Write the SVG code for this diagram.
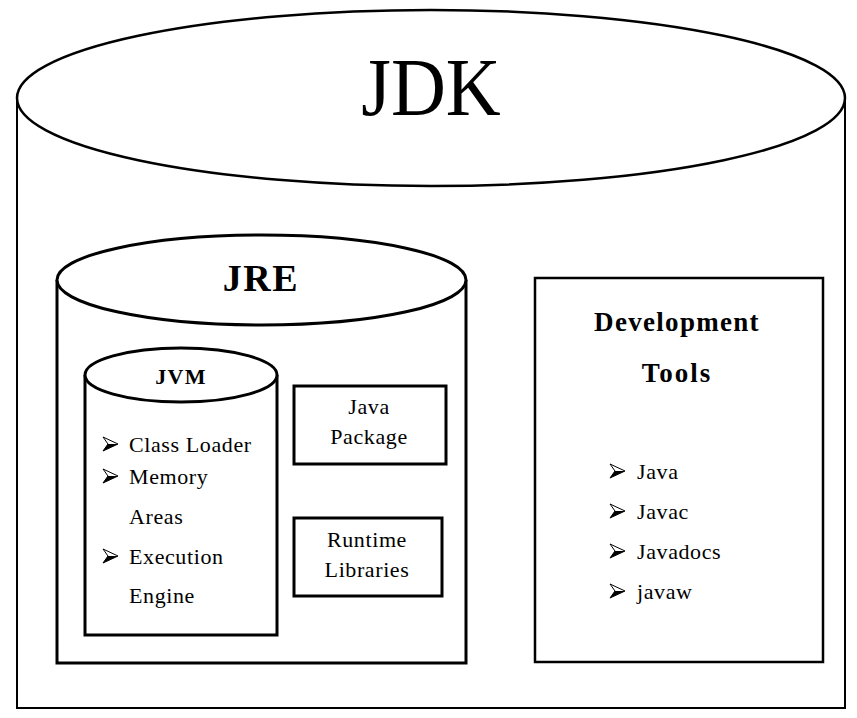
<svg xmlns="http://www.w3.org/2000/svg" width="857" height="718" viewBox="0 0 857 718">
<style>
.s{fill:#fff;stroke:#000;}
.t{font-family:"Liberation Serif","Times New Roman",serif;fill:#000;}
.c{text-anchor:middle;}
.b{font-weight:bold;}
.i{font-size:22px;letter-spacing:0.6px;}
</style>
<defs>
<g id="bul">
<path d="M0,0 L15,7 L0,14 L5,7 Z" fill="#fff" stroke="#000" stroke-width="1"/>
<path d="M5,7 L15,7 L0,14 Z" fill="#000"/>
</g>
</defs>
<rect width="857" height="718" fill="#fff"/>
<g id="jdk">
<path class="s" stroke-width="2" d="M17,98 L17,708 L845,708 L845,98"/>
<ellipse class="s" stroke-width="2.5" cx="431" cy="98" rx="414" ry="88"/>
<text class="t c" x="431" y="115" font-size="80" transform="translate(431,115) scale(0.95,1.04) translate(-431,-115)">JDK</text>
</g>
<g id="jre">
<path class="s" stroke-width="3" d="M57,280 L57,663 L466,663 L466,280"/>
<ellipse class="s" stroke-width="3" cx="261.5" cy="280" rx="204.5" ry="45"/>
<text class="t c b" x="261" y="291" font-size="38" letter-spacing="1.5">JRE</text>
</g>
<g id="jvm">
<path class="s" stroke-width="3" d="M85,375 L85,635 L277,635 L277,375"/>
<ellipse class="s" stroke-width="3" cx="181" cy="375" rx="96" ry="27"/>
<text class="t c b" x="181" y="384" font-size="22" letter-spacing="1.2">JVM</text>
<use href="#bul" x="103" y="437"/>
<use href="#bul" x="103" y="469"/>
<use href="#bul" x="103" y="549"/>
<text class="t i" x="129" y="452">Class Loader</text>
<text class="t i" x="129" y="484">Memory</text>
<text class="t i" x="129" y="524">Areas</text>
<text class="t i" x="129" y="564">Execution</text>
<text class="t i" x="129" y="603">Engine</text>
</g>
<g id="javapackage">
<rect class="s" stroke-width="3" x="294" y="386" width="152" height="78"/>
<text class="t c i" x="369" y="414">Java</text>
<text class="t c i" x="369" y="444">Package</text>
</g>
<g id="runtimelibraries">
<rect class="s" stroke-width="3" x="294" y="518" width="148" height="78"/>
<text class="t c i" x="367" y="547">Runtime</text>
<text class="t c i" x="367" y="577">Libraries</text>
</g>
<g id="devtools">
<rect class="s" stroke-width="2.5" x="535" y="278" width="288" height="384"/>
<text class="t c b" x="677" y="331" font-size="27" letter-spacing="1.3">Development</text>
<text class="t c b" x="677" y="382" font-size="27" letter-spacing="2">Tools</text>
<use href="#bul" x="610" y="464"/>
<use href="#bul" x="610" y="504"/>
<use href="#bul" x="610" y="544"/>
<use href="#bul" x="610" y="584"/>
<text class="t i" x="637" y="479">Java</text>
<text class="t i" x="637" y="519">Javac</text>
<text class="t i" x="637" y="559">Javadocs</text>
<text class="t i" x="637" y="599">javaw</text>
</g>
<g id="connectors"></g>
</svg>
